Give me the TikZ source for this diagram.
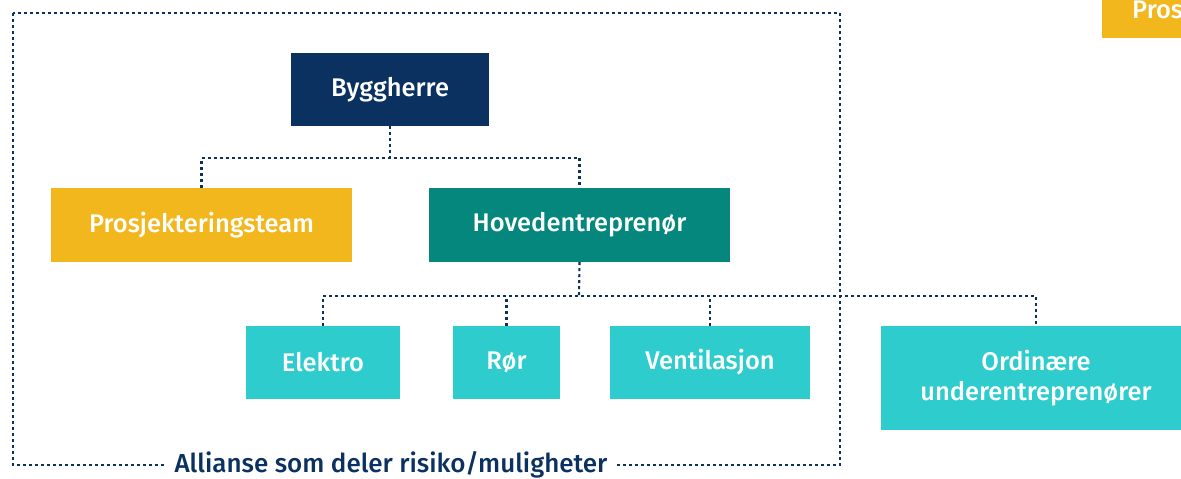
\documentclass[tikz,border=0pt]{standalone}
\usepackage{fontspec}
\setmainfont{Fira Sans}[BoldFont={Fira Sans Medium}]
\definecolor{navy}{HTML}{0B3161}
\definecolor{gold}{HTML}{F2B71C}
\definecolor{teal}{HTML}{05877E}
\definecolor{cyanbox}{HTML}{2ECCCC}
\begin{document}
\begin{tikzpicture}[x=1pt,y=-1pt,
  box/.style={rectangle, inner sep=0pt, text=white, font=\fontsize{25.5}{30}\selectfont\bfseries, align=center},
  conn/.style={draw=navy, line width=2.1pt, dash pattern=on 3pt off 3pt},
  frame/.style={draw=navy, line width=2.1pt, dash pattern=on 3pt off 3pt}]
\useasboundingbox (0,0) rectangle (1181,479);
\clip (0,0) rectangle (1181,479);
% frame
\draw[frame] (13,13) rectangle (840,465);
\node[fill=white, inner xsep=9pt, inner ysep=2pt, text=navy, font=\fontsize{26}{30}\selectfont\bfseries] (lab) at (391,465) {Allianse som deler risiko/muligheter};
% boxes
\node[box, fill=navy, minimum width=198pt, minimum height=73pt] (bh) at (390,89.5) {Byggherre};
\node[box, fill=gold, minimum width=301pt, minimum height=74pt] (pt) at (201.5,225) {Prosjekteringsteam};
\node[box, fill=teal, minimum width=301pt, minimum height=74pt] (he) at (579.5,225) {Hovedentreprenør};
\node[box, fill=cyanbox, minimum width=154pt, minimum height=73pt] (el) at (323,362.5) {Elektro};
\node[box, fill=cyanbox, minimum width=107pt, minimum height=73pt] (ror) at (506.5,362.5) {Rør};
\node[box, fill=cyanbox, minimum width=200pt, minimum height=73pt] (ve) at (710,362.5) {Ventilasjon};
\node[box, fill=cyanbox, minimum width=310pt, minimum height=104pt] (or) at (1036,378) {Ordinære\\underentreprenører};
\node[box, fill=gold, minimum width=200pt, minimum height=60pt, anchor=south west] (pt2) at (1102,38) {};
\node[text=white, font=\fontsize{25.5}{30}\selectfont\bfseries, anchor=base west, inner sep=0pt] (pt2t) at (1132,19) {Pros};
% connectors
\coordinate (j1) at (390,158);
\coordinate (j2) at (579,296);
\draw[conn] (bh.south) -- (j1);
\draw[conn] (pt.north) |- (j1) -| (he.north);
\draw[conn] (he.south) -- (j2);
\draw[conn] (el.north) |- (j2) -| (or.north);
\draw[conn] (ror.north) -- (ror.north |- j2);
\draw[conn] (ve.north) -- (ve.north |- j2);
\end{tikzpicture}
\end{document}
